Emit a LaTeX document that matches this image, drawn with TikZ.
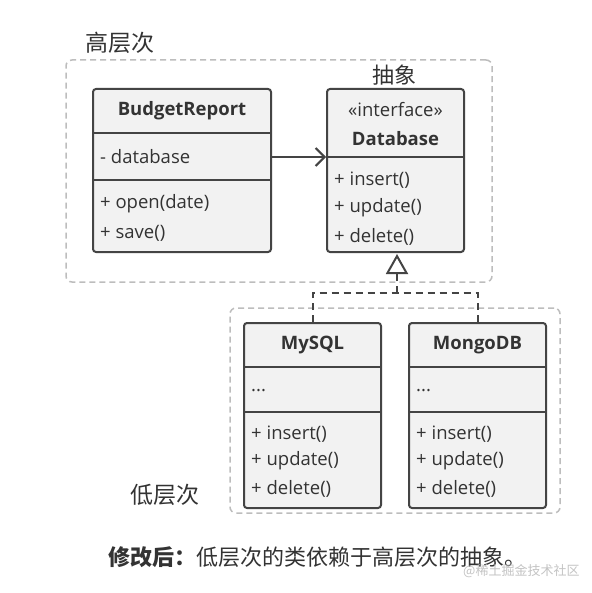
\documentclass[tikz,border=0pt]{standalone}
\usepackage{fontspec}
\setmainfont{Open Sans}
\newfontfamily\cjk{Noto Sans CJK SC}
\usetikzlibrary{arrows.meta}
\definecolor{edge}{HTML}{444444}
\definecolor{ink}{HTML}{333333}
\definecolor{boxfill}{HTML}{F2F2F2}
\definecolor{grpline}{HTML}{BDBDBD}
\definecolor{wm}{HTML}{C4C4C4}
\begin{document}
\begin{tikzpicture}[x=1pt,y=-1pt,
  cls/.style={draw=edge, fill=boxfill, line width=2pt, rounded corners=3pt, inner sep=0pt},
  sepline/.style={draw=edge, line width=2pt},
  grp/.style={draw=grpline, line width=1.5pt, dash pattern=on 6pt off 4pt, rounded corners=6pt, inner sep=0pt},
  txt/.style={font=\fontsize{18.5}{20}\selectfont, text=ink, anchor=west, inner sep=0pt},
  ttl/.style={font=\bfseries\fontsize{18.5}{20}\selectfont, text=ink, inner sep=0pt},
  lbl/.style={font=\cjk\fontsize{23}{25}\selectfont, text=ink, inner sep=0pt},
  conn/.style={draw=edge, line width=2pt},
  realize/.style={conn, dash pattern=on 7pt off 5pt}
]
\useasboundingbox (0,0) rectangle (591,593);
\fill[white] (0,0) rectangle (591,593);

% groups
\node[grp, minimum width=426pt, minimum height=222pt] (high) at (279,171) {};
\node[grp, minimum width=330pt, minimum height=205pt] (low) at (395,410.5) {};
\node[lbl, anchor=west] (hl) at (85,43) {高层次};
\node[lbl, font=\cjk\fontsize{22}{24}\selectfont] (abs) at (394,75) {抽象};
\node[lbl, anchor=west] (ll) at (130,495) {低层次};

% BudgetReport
\node[cls, minimum width=178pt, minimum height=163pt] (br) at (182,170.5) {};
\draw[sepline] (br.west |- 0,133) -- (br.east |- 0,133);
\draw[sepline] (br.west |- 0,180) -- (br.east |- 0,180);
\node[ttl] (brt) at (182,111) {BudgetReport};
\node[txt] (bra) at (100,157) {- database};
\node[txt] (brm1) at (100,204) {+ open(date)};
\node[txt] (brm2) at (100,233) {+ save()};

% Database
\node[cls, minimum width=137pt, minimum height=163pt] (db) at (395.5,170.5) {};
\draw[sepline] (db.west |- 0,157) -- (db.east |- 0,157);
\node[txt, anchor=center] (dbs) at (395.5,110) {«interface»};
\node[ttl] (dbt) at (395.5,139) {Database};
\node[txt] (dbm1) at (334,180) {+ insert()};
\node[txt] (dbm2) at (334,208) {+ update()};
\node[txt] (dbm3) at (334,237) {+ delete()};

% MySQL
\node[cls, minimum width=137pt, minimum height=185pt] (my) at (312.5,415.5) {};
\draw[sepline] (my.west |- 0,367) -- (my.east |- 0,367);
\draw[sepline] (my.west |- 0,412) -- (my.east |- 0,412);
\node[ttl] (myt) at (312.5,345) {MySQL};
\node[txt] (mya) at (251,391) {...};
\node[txt] (mym1) at (251,434) {+ insert()};
\node[txt] (mym2) at (251,461) {+ update()};
\node[txt] (mym3) at (251,489) {+ delete()};

% MongoDB
\node[cls, minimum width=137pt, minimum height=185pt] (mg) at (477.5,415.5) {};
\draw[sepline] (mg.west |- 0,367) -- (mg.east |- 0,367);
\draw[sepline] (mg.west |- 0,412) -- (mg.east |- 0,412);
\node[ttl] (mgt) at (477.5,345) {MongoDB};
\node[txt] (mga) at (416,391) {...};
\node[txt] (mgm1) at (416,434) {+ insert()};
\node[txt] (mgm2) at (416,461) {+ update()};
\node[txt] (mgm3) at (416,489) {+ delete()};

% association arrow
\draw[conn, -{Straight Barb[length=9pt, width=18pt, line width=2pt]}] (br.east |- 0,157) -- (db.west |- 0,157);

% realization
\coordinate (jn) at (397,293);
\draw[realize] (my.north) -- (my.north |- jn) -- (mg.north |- jn) -- (mg.north);
\draw[realize, -{Triangle[open, length=20pt, width=22pt, line width=2pt, fill=white]}] (jn) -- (397,254);

% caption
\node[font=\cjk\fontsize{22}{24}\selectfont, text=ink, anchor=west, inner sep=0pt] (cap) at (108,557) {\textbf{修改后：}低层次的类依赖于高层次的抽象。};
\node[font=\cjk\fontsize{13}{15}\selectfont, text=wm, anchor=west, inner sep=0pt] (wmk) at (463,571) {@稀土掘金技术社区};
\end{tikzpicture}
\end{document}
